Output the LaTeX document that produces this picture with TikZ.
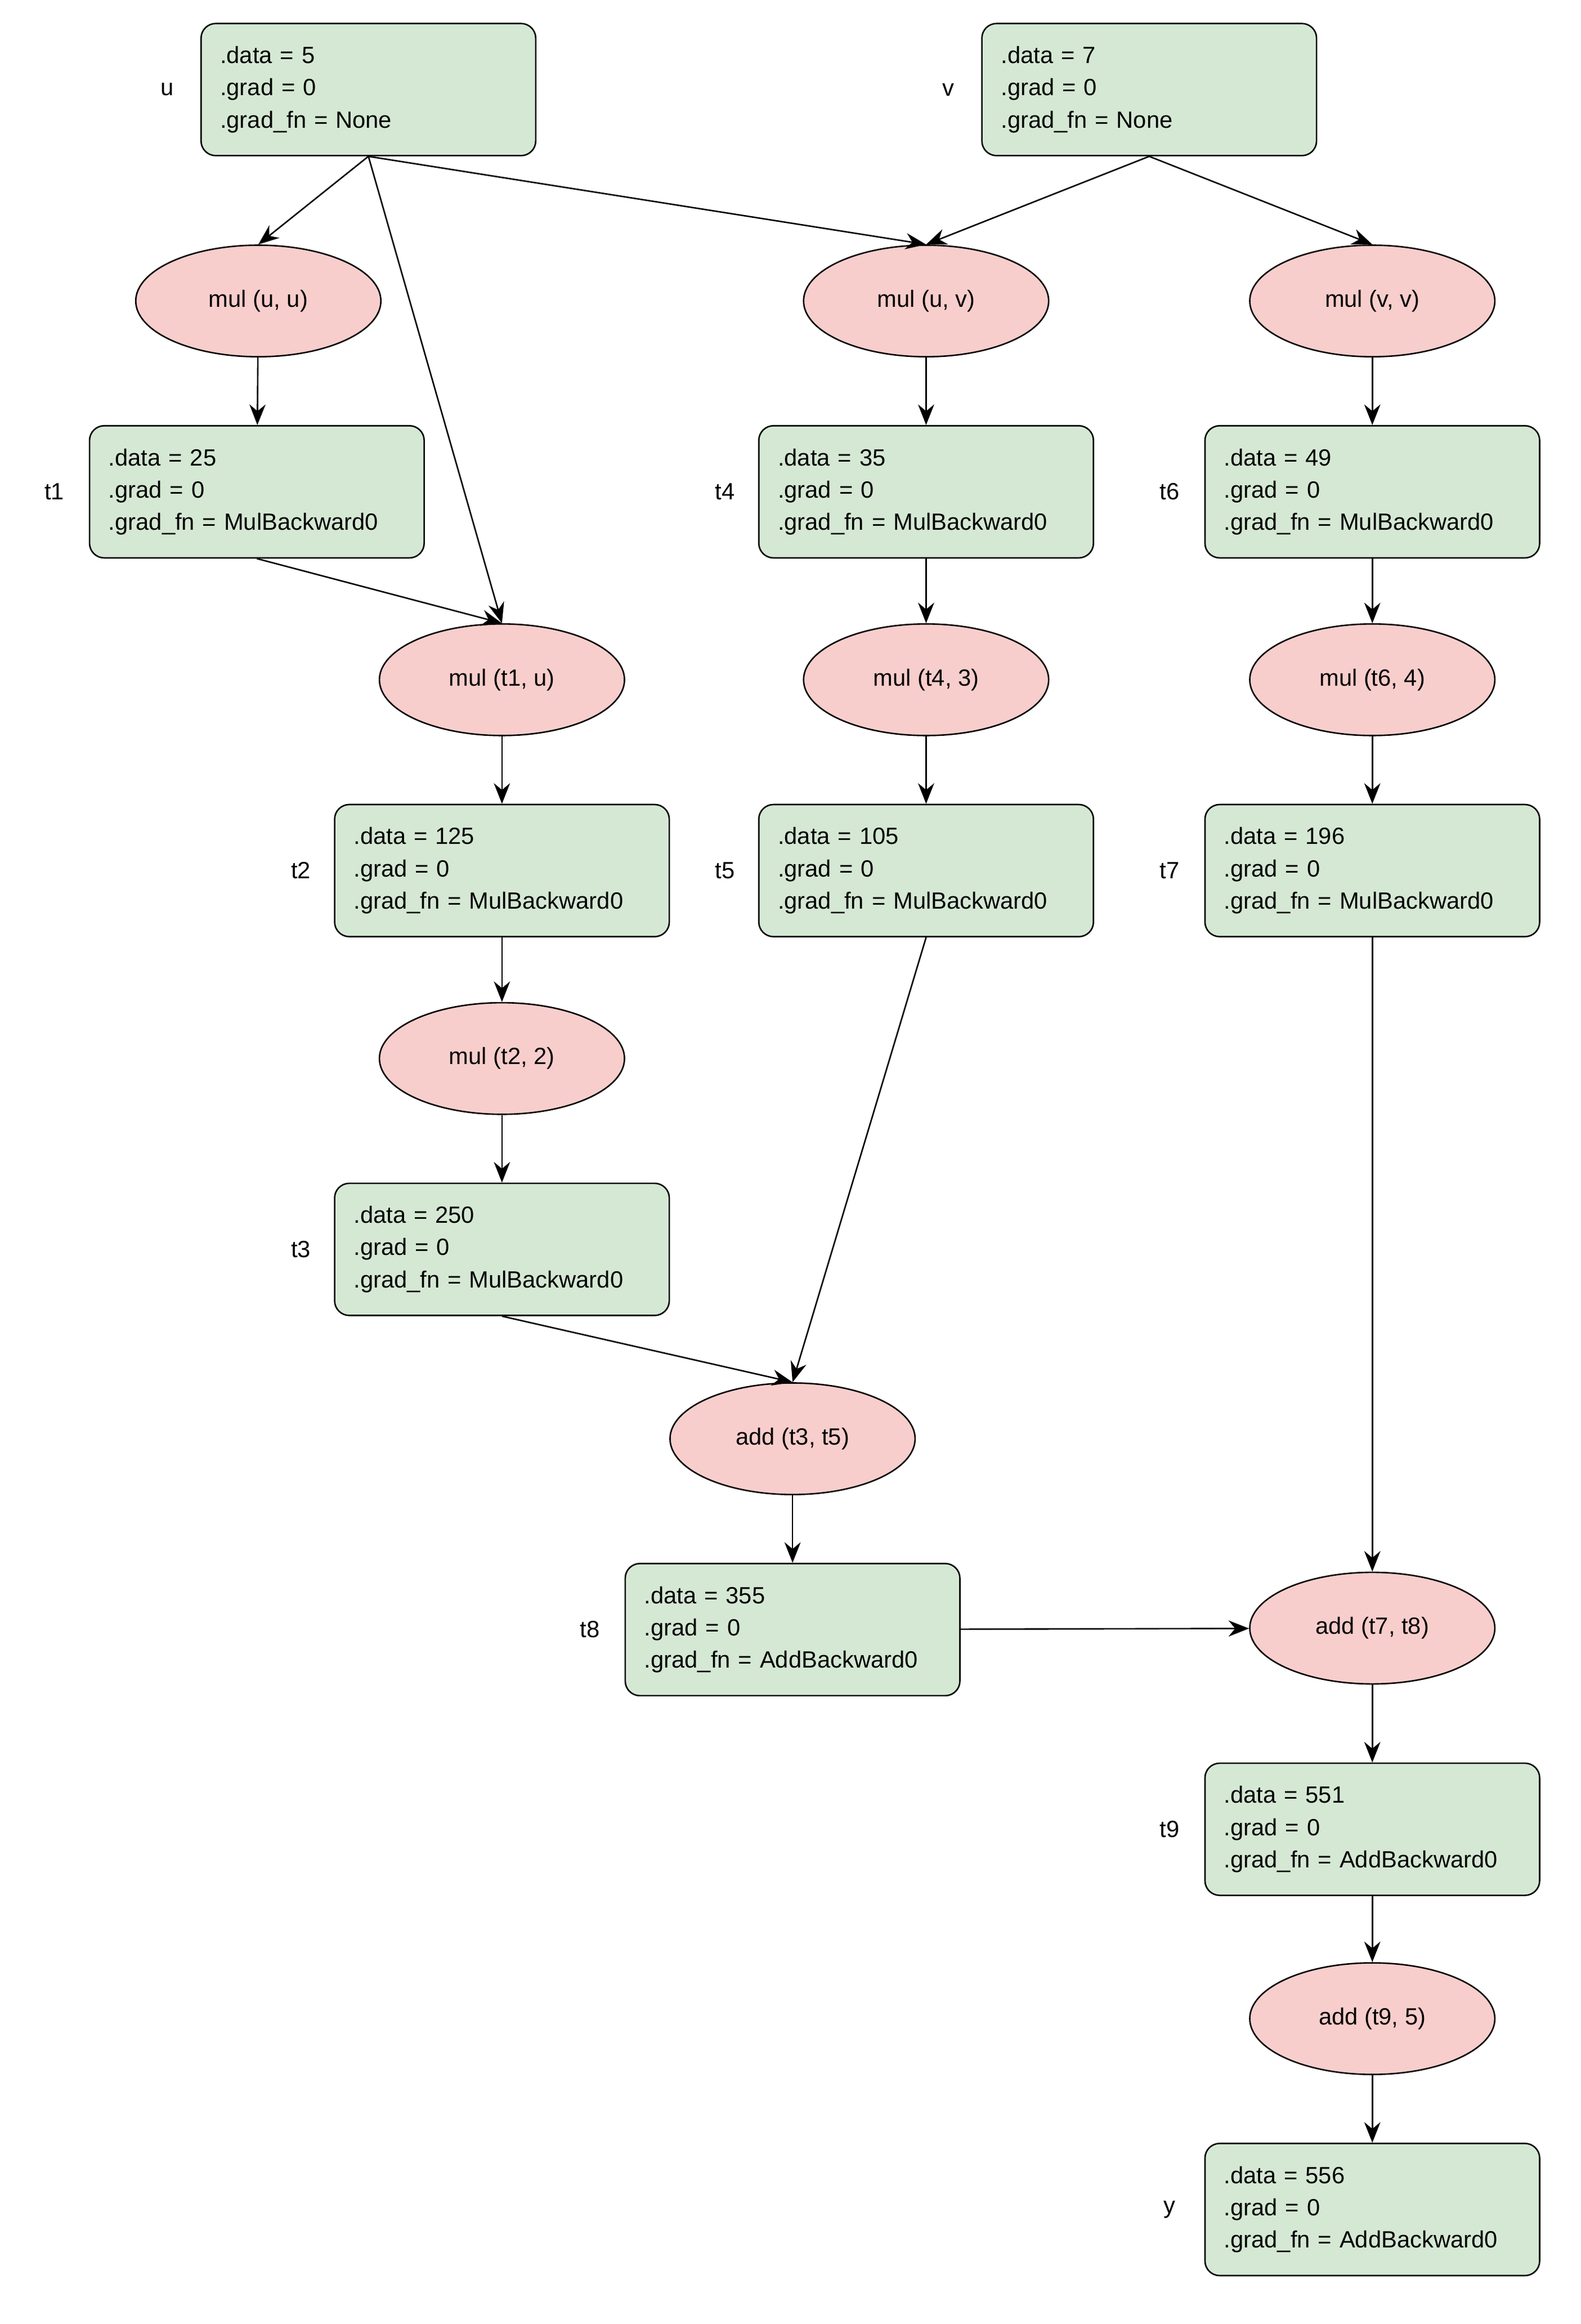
\documentclass[tikz,border=0pt]{standalone}
\usepackage{fontspec}
\setmainfont{Liberation Sans}
\usetikzlibrary{shapes.geometric,arrows.meta}
\begin{document}
\begin{tikzpicture}[x=1pt,y=-1pt,
 box/.style={draw,rounded corners=10pt,fill={rgb,255:red,213;green,232;blue,212},minimum width=228pt,minimum height=90pt,text width=202pt,align=left,inner xsep=13pt,font=\fontsize{16}{22}\selectfont,line width=1pt},
 op/.style={draw,ellipse,fill={rgb,255:red,248;green,206;blue,204},minimum width=167pt,minimum height=76pt,font=\fontsize{16}{20}\selectfont,line width=1pt},
 lab/.style={font=\fontsize{16}{20}\selectfont},
 arr/.style={-{Stealth[length=14pt,width=11pt]},line width=1pt}]
\useasboundingbox (0,0) rectangle (1077,1583);
\newcommand\bx[5]{\node[box] (#1) at (#2) {.data = #3\\.grad = 0\\.grad\_fn = #4}; \node[lab] at (#5) {#1};}
\bx{u}{251,61}{5}{None}{114,61}
\bx{v}{783,61}{7}{None}{646,61}
\bx{t1}{175,335}{25}{MulBackward0}{37,335}
\bx{t4}{631,335}{35}{MulBackward0}{494,335}
\bx{t6}{935,335}{49}{MulBackward0}{797,335}
\bx{t2}{342,593}{125}{MulBackward0}{205,593}
\bx{t5}{631,593}{105}{MulBackward0}{494,593}
\bx{t7}{935,593}{196}{MulBackward0}{797,593}
\bx{t3}{342,851}{250}{MulBackward0}{205,851}
\bx{t8}{540,1110}{355}{AddBackward0}{402,1110}
\bx{t9}{935,1246}{551}{AddBackward0}{797,1246}
\bx{y}{935,1505}{556}{AddBackward0}{797,1505}
\node[op] (muu) at (176,205) {mul (u, u)};
\node[op] (muv) at (631,205) {mul (u, v)};
\node[op] (mvv) at (935,205) {mul (v, v)};
\node[op] (mt1) at (342,463) {mul (t1, u)};
\node[op] (mt4) at (631,463) {mul (t4, 3)};
\node[op] (mt6) at (935,463) {mul (t6, 4)};
\node[op] (mt2) at (342,721) {mul (t2, 2)};
\node[op] (a35) at (540,980) {add (t3, t5)};
\node[op] (a78) at (935,1109) {add (t7, t8)};
\node[op] (a95) at (935,1375) {add (t9, 5)};
\draw[arr] (u.south) -- (muu.north);
\draw[arr] (u.south) -- (muv.north);
\draw[arr] (u.south) -- (mt1.north);
\draw[arr] (v.south) -- (muv.north);
\draw[arr] (v.south) -- (mvv.north);
\draw[arr] (muu) -- (t1);
\draw[arr] (muv) -- (t4);
\draw[arr] (mvv) -- (t6);
\draw[arr] (t1.south) -- (mt1.north);
\draw[arr] (t4) -- (mt4);
\draw[arr] (t6) -- (mt6);
\draw[arr] (mt1) -- (t2);
\draw[arr] (mt4) -- (t5);
\draw[arr] (mt6) -- (t7);
\draw[arr] (t2) -- (mt2);
\draw[arr] (mt2) -- (t3);
\draw[arr] (t3.south) -- (a35.north);
\draw[arr] (t5.south) -- (a35.north);
\draw[arr] (a35) -- (t8);
\draw[arr] (t7) -- (a78);
\draw[arr] (t8) -- (a78);
\draw[arr] (a78) -- (t9);
\draw[arr] (t9) -- (a95);
\draw[arr] (a95) -- (y);
\end{tikzpicture}
\end{document}
